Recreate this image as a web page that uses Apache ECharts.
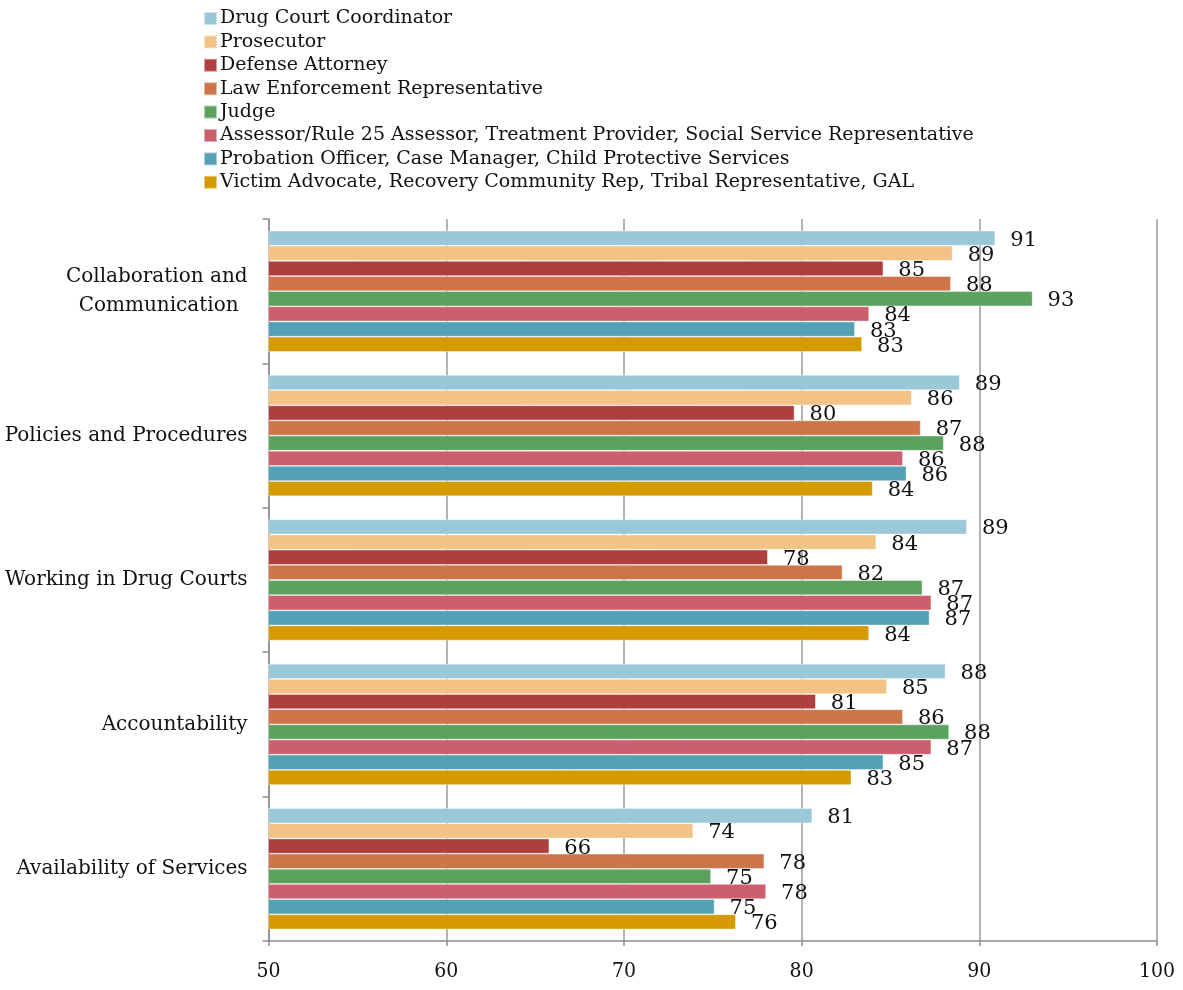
<!DOCTYPE html>
<html>
<head>
<meta charset="utf-8">
<script src="https://cdn.jsdelivr.net/npm/echarts@6/dist/echarts.min.js"></script>
<style>
html,body{margin:0;padding:0;background:#fff;}
#chart{width:1183px;height:990px;}
</style>
</head>
<body>
<div id="chart"></div>
<script>
const categories = ['Collaboration and\nCommunication', 'Policies and Procedures', 'Working in Drug Courts', 'Accountability', 'Availability of Services'];
const seriesNames = [
  'Drug Court Coordinator',
  'Prosecutor',
  'Defense Attorney',
  'Law Enforcement Representative',
  'Judge',
  'Assessor/Rule 25 Assessor, Treatment Provider, Social Service Representative',
  'Probation Officer, Case Manager, Child Protective Services',
  'Victim Advocate, Recovery Community Rep, Tribal Representative, GAL'
];
const drugCourtCoordinator = [90.9, 88.9, 89.3, 88.1, 80.6];
const prosecutor = [88.5, 86.2, 84.2, 84.8, 73.9];
const defenseAttorney = [84.6, 79.6, 78.1, 80.8, 65.8];
const lawEnforcement = [88.4, 86.7, 82.3, 85.7, 77.9];
const judge = [93.0, 88.0, 86.8, 88.3, 74.9];
const assessor = [83.8, 85.7, 87.3, 87.3, 78.0];
const probation = [83.0, 85.9, 87.2, 84.6, 75.1];
const victimAdvocate = [83.4, 84.0, 83.8, 82.8, 76.3];
const seriesValues = [drugCourtCoordinator, prosecutor, defenseAttorney, lawEnforcement, judge, assessor, probation, victimAdvocate];
const colors = ['#9BC8D8', '#F3C385', '#AF3F3F', '#CC7549', '#5CA25E', '#CB5F6D', '#53A1B5', '#D49A00'];
const xTicks = [50, 60, 70, 80, 90, 100];

const serif = 'DejaVu Serif';
const chart = echarts.init(document.getElementById('chart'));
chart.setOption({
  animation: false,
  color: colors,
  legend: {
    orient: 'vertical',
    left: 203,
    top: 9,
    padding: 0,
    icon: 'rect',
    itemWidth: 13,
    itemHeight: 13,
    itemGap: 4.4,
    textStyle: { fontFamily: serif, fontSize: 19, color: '#111', lineHeight: 19, padding: [0, 0, 0, -2] },
    data: seriesNames
  },
  grid: { left: 268.6, right: 26, top: 219, bottom: 49, containLabel: false },
  xAxis: {
    type: 'value',
    min: 50, max: 100, interval: 10,
    axisLine: { show: true, lineStyle: { color: '#8c8c8c', width: 1.5 } },
    axisTick: { show: true, length: 5, lineStyle: { color: '#8c8c8c', width: 1.5 } },
    splitLine: { show: true, lineStyle: { color: '#9a9a9a', width: 1.5 } },
    axisLabel: {
      fontFamily: 'DejaVu Serif Condensed', fontSize: 21, color: '#111', margin: 20,
      formatter: v => xTicks.includes(v) ? String(v) : ''
    }
  },
  yAxis: {
    type: 'category',
    inverse: true,
    data: categories,
    axisLine: { show: true, lineStyle: { color: '#8c8c8c', width: 1.5 } },
    axisTick: { show: true, length: 6, lineStyle: { color: '#8c8c8c', width: 1.5 } },
    axisLabel: {
      fontFamily: serif, fontSize: 20, color: '#111', margin: 21, lineHeight: 29,
      align: 'right',
      formatter: v => v.split('\n').map((line, i, arr) => (arr.length > 1 && i === arr.length - 1) ? '{b|' + line + '}' : '{a|' + line + '}').join('\n'),
      rich: {
        a: { fontFamily: serif, fontSize: 20, color: '#111', lineHeight: 29 },
        b: { fontFamily: serif, fontSize: 20, color: '#111', lineHeight: 29, padding: [0, 9, 0, 0] }
      }
    }
  },
  series: seriesValues.map((vals, i) => ({
    name: seriesNames[i],
    type: 'bar',
    data: vals,
    barGap: '0%',
    barCategoryGap: '16%',
    itemStyle: { color: colors[i], borderColor: 'rgba(255,255,255,0.5)', borderWidth: 0.8 },
    label: {
      show: true,
      position: 'right',
      distance: 15,
      offset: [0, 2],
      fontFamily: serif,
      fontSize: 21,
      color: '#111',
      formatter: p => String(Math.round(p.value))
    }
  }))
});
</script>
</body>
</html>
